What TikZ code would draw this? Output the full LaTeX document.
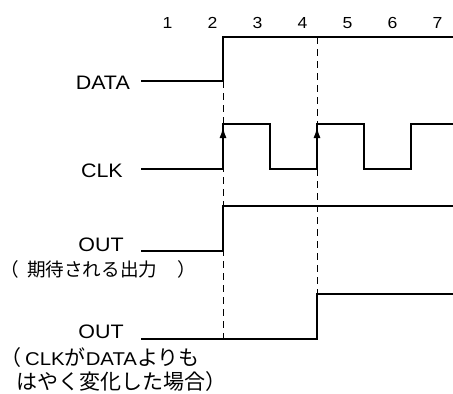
\documentclass[tikz,border=0pt]{standalone}
\usepackage{fontspec}
\setmainfont[FakeStretch=1.1]{Liberation Sans}
\newfontfamily\jpfont{Noto Sans CJK JP}
\newcommand{\jtext}[2][18.6pt]{{\jpfont\fontsize{#1}{22pt}\selectfont #2}}
\usetikzlibrary{positioning,arrows.meta}

\begin{document}
\begin{tikzpicture}[
  x=1pt, y=-1pt,
  >=Latex,
  lbl/.style={font=\fontsize{19.5pt}{24pt}\selectfont, inner sep=0pt},
  note/.style={font=\fontsize{18.5pt}{24pt}\selectfont, inner sep=0pt},
  num/.style={font=\fontsize{16pt}{19pt}\selectfont, inner sep=0pt},
  sig/.style={line width=2.4pt, line join=miter},
  edgearrow/.style={-{Latex[length=12pt,width=7pt]}, line width=2.4pt},
  guide/.style={line width=1pt, dash pattern=on 7pt off 5pt}
]
\useasboundingbox (0,0) rectangle (453,394);

% Clock numbers
\node[num] (n1) at (167.5,23) {1};
\node[num, on grid, right=45pt of n1] (n2) {2};
\node[num, on grid, right=45pt of n2] (n3) {3};
\node[num, on grid, right=45pt of n3] (n4) {4};
\node[num, on grid, right=45pt of n4] (n5) {5};
\node[num, on grid, right=45pt of n5] (n6) {6};
\node[num, on grid, right=45pt of n6] (n7) {7};

% Signal names
\node[lbl, anchor=base east] (data_lbl) at (130,89.5) {DATA};
\node[lbl, anchor=base east] (clk_lbl) at (123,177) {CLK};
\node[lbl, anchor=base] (out1_lbl) at (101,251) {OUT};
\node[note, anchor=base west] (out1_note) at (0,276.5)
  {\jtext{（}\hspace{8.4pt}\jtext{期待される出力}\hspace{20pt}\jtext{）}};
\node[lbl, anchor=base] (out2_lbl) at (101,338) {OUT};
\node[note, anchor=base west] (out2_note) at (0,365.5)
  {\jtext[21pt]{（}\hspace{4pt}CLK\jtext[21pt]{が}DATA\jtext[21pt]{よりも}};
\node[note, anchor=base west] (out2_note2) at (16.5,389.5)
  {\jtext[21pt]{はやく変化した場合）}};

% Guides
\draw[guide] (223,81) -- (223,339);
\draw[guide] (317,37) -- (317,294);

% Waveforms
\draw[sig] (141,81) -- (223,81) -- (223,37) -- (453,37);
\draw[sig] (141,169) -- (223,169) -- (223,124) -- (270,124) -- (270,169)
  -- (317,169) -- (317,124) -- (364,124) -- (364,169) -- (411,169)
  -- (411,124) -- (453,124);
\draw[sig] (141,251) -- (223,251) -- (223,206) -- (453,206);
\draw[sig] (141,339) -- (317,339) -- (317,294) -- (453,294);

% Rising edges
\draw[edgearrow] (223,169) -- (223,126);
\draw[edgearrow] (317,169) -- (317,126);

\end{tikzpicture}
\end{document}
